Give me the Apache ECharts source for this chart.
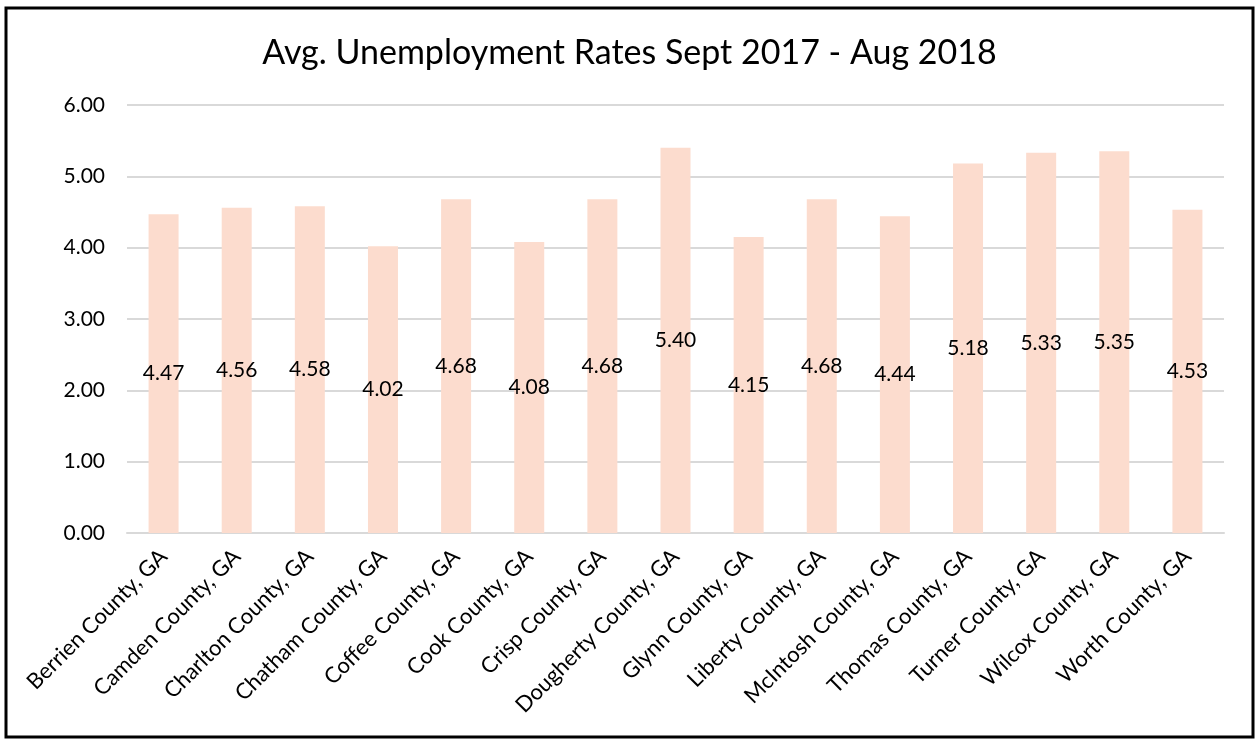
<!DOCTYPE html>
<html>
<head>
<meta charset="utf-8">
<script src="https://cdn.jsdelivr.net/npm/echarts@6/dist/echarts.min.js"></script>
<style>
html,body{margin:0;padding:0;background:#fff;}
#chart{width:1259px;height:740px;}
</style>
</head>
<body>
<div id="chart"></div>
<script>
const categories = ["Berrien County, GA","Camden County, GA","Charlton County, GA","Chatham County, GA","Coffee County, GA","Cook County, GA","Crisp County, GA","Dougherty County, GA","Glynn County, GA","Liberty County, GA","McIntosh County, GA","Thomas County, GA","Turner County, GA","Wilcox County, GA","Worth County, GA"];
const rates = [4.47,4.56,4.58,4.02,4.68,4.08,4.68,5.40,4.15,4.68,4.44,5.18,5.33,5.35,4.53];
const titleText = "Avg. Unemployment Rates Sept 2017 - Aug 2018";

const FONT = "Lato, 'Open Sans', sans-serif";
const chart = echarts.init(document.getElementById('chart'), null, {renderer:'canvas'});
chart.setOption({
  backgroundColor:'#fff',
  animation:false,
  title:{text:titleText,left:'center',top:31,textStyle:{fontFamily:FONT,fontSize:34,fontWeight:'normal',color:'#000'}},
  graphic:[{type:'rect',shape:{x:6,y:8,width:1247,height:729},style:{fill:'none',stroke:'#000',lineWidth:3},z:100}],
  grid:{left:127,right:35,top:105,bottom:207},
  xAxis:{type:'category',data:categories,
    axisLine:{lineStyle:{color:'#d9d9d9',width:2}},axisTick:{show:false},
    axisLabel:{rotate:45,interval:0,fontFamily:FONT,fontSize:22,color:'#000',margin:20}},
  yAxis:{type:'value',min:0,max:6,interval:1,
    axisLine:{show:false},axisTick:{show:false},
    splitLine:{lineStyle:{color:'#d9d9d9',width:2}},
    axisLabel:{formatter:v=>v.toFixed(2),fontFamily:FONT,fontSize:21,color:'#000',margin:22}},
  series:[{type:'bar',data:rates,barWidth:30,itemStyle:{color:'#FCDCCE'},
    label:{show:true,position:'inside',formatter:p=>p.value.toFixed(2),fontFamily:FONT,fontSize:21,color:'#000'}}]
});
</script>
</body>
</html>
